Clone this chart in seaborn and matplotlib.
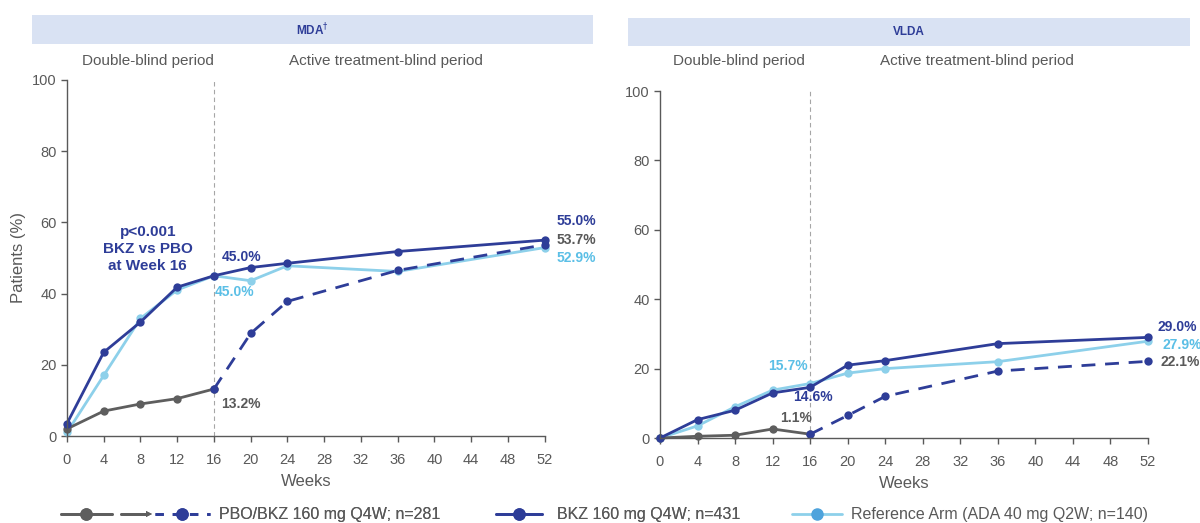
import pandas as pd
import matplotlib.pyplot as plt
import seaborn as sns
from matplotlib.lines import Line2D
from matplotlib.patches import Rectangle
from matplotlib.legend_handler import HandlerBase

sns.set_style("white")
plt.rcParams['font.family'] = ['Liberation Sans', 'DejaVu Sans']

# data
weeks = [0, 4, 8, 12, 16, 20, 24, 36, 52]
weeks_db = [0, 4, 8, 12, 16]
weeks_sw = [16, 20, 24, 36, 52]

mda_bkz = [3.5, 23.5, 32.0, 41.8, 45.0, 47.3, 48.5, 51.8, 55.0]
mda_ref = [1.0, 17.0, 33.0, 41.0, 45.0, 43.6, 47.8, 46.2, 52.9]
mda_pbo = [2.0, 7.0, 9.0, 10.5, 13.2]
mda_sw = [13.2, 28.8, 37.8, 46.5, 53.7]

vlda_bkz = [0.0, 5.3, 8.0, 13.0, 14.6, 21.0, 22.3, 27.2, 29.0]
vlda_ref = [0.0, 3.5, 9.0, 13.8, 15.7, 18.7, 20.0, 22.0, 27.9]
vlda_pbo = [0.0, 0.5, 0.8, 2.6, 1.1]
vlda_sw = [1.1, 6.5, 12.0, 19.3, 22.1]

dark = "#2E3D98"
light = "#8DD0EA"
light_txt = "#5BBFE6"
grey = "#5E5E5E"
txt = "#595959"

fig = plt.figure(figsize=(12, 5.23), dpi=100)
ax1 = fig.add_axes([0.0558, 0.1663, 0.398, 0.681])
ax2 = fig.add_axes([0.55, 0.1625, 0.4067, 0.6635])


def draw(ax, bkz, ref, pbo, sw):
    ax.axvline(16, color="#A6A6A6", lw=0.8, ls=(0, (4, 3)), zorder=0)
    kw = dict(ax=ax, lw=2, marker="o", markersize=6, markeredgewidth=0, clip_on=False)
    sns.lineplot(x=weeks, y=ref, color=light, **kw)
    sns.lineplot(x=weeks_db, y=pbo, color=grey, **kw)
    sns.lineplot(x=weeks_sw, y=sw, color=dark, linestyle=(0, (5, 3.5)), **kw)
    sns.lineplot(x=weeks, y=bkz, color=dark, **kw)
    ax.set_xlim(0, 52)
    ax.set_ylim(0, 100)
    ax.set_xticks(range(0, 53, 4))
    ax.set_yticks(range(0, 101, 20))
    sns.despine(ax=ax)
    for s in ["left", "bottom"]:
        ax.spines[s].set_color(txt)
        ax.spines[s].set_linewidth(1)
    ax.tick_params(axis="both", colors=txt, labelsize=10.5, length=4,
                   direction="out", left=True, bottom=True, width=1)
    ax.tick_params(axis="x", pad=8)
    ax.set_xlabel("Weeks", fontsize=12, color=txt, labelpad=5)


draw(ax1, mda_bkz, mda_ref, mda_pbo, mda_sw)
draw(ax2, vlda_bkz, vlda_ref, vlda_pbo, vlda_sw)
ax1.set_ylabel("Patients (%)", fontsize=12, color=txt)
ax2.set_ylabel("")

b = dict(fontsize=10, fontweight="bold", va="center", ha="left")
ax1.text(53.3, 60.4, "55.0%", color=dark, clip_on=False, **b)
ax1.text(53.3, 55.1, "53.7%", color=txt, clip_on=False, **b)
ax1.text(53.3, 50.0, "52.9%", color=light_txt, clip_on=False, **b)
ax1.text(16.9, 50.3, "45.0%", color=dark, **b)
ax1.text(16.1, 40.4, "45.0%", color=light_txt, **b)
ax1.text(16.75, 9.0, "13.2%", color=txt, **b)
ax1.text(8.8, 52.5, "p<0.001\nBKZ vs PBO\nat Week 16", color=dark, fontsize=11,
         fontweight="bold", ha="center", va="center", linespacing=1.3)

ax2.text(53.0, 32.0, "29.0%", color=dark, clip_on=False, **b)
ax2.text(53.5, 26.8, "27.9%", color=light_txt, clip_on=False, **b)
ax2.text(53.3, 21.9, "22.1%", color=txt, clip_on=False, **b)
ax2.text(11.5, 20.7, "15.7%", color=light_txt, **b)
ax2.text(14.2, 11.8, "14.6%", color=dark, **b)
ax2.text(12.8, 5.8, "1.1%", color=txt, **b)

# title bars
for x0, x1, y0, y1, label in [(0.0267, 0.494, 0.916, 0.971, r"MDA$^{\dagger}$"),
                              (0.523, 0.992, 0.912, 0.966, "VLDA")]:
    fig.patches.append(Rectangle((x0, y0), x1 - x0, y1 - y0, transform=fig.transFigure,
                                 facecolor="#D9E2F3", edgecolor="none"))
    fig.text((x0 + x1) / 2, (y0 + y1) / 2, label, color=dark, fontsize=8.5,
             fontweight="bold", ha="center", va="center")

for x, label in [(0.1233, "Double-blind period"), (0.3217, "Active treatment-blind period"),
                 (0.6158, "Double-blind period"), (0.8142, "Active treatment-blind period")]:
    fig.text(x, 0.883, label, color=txt, fontsize=11, ha="center", va="center")


class SwitchHandler(HandlerBase):
    # grey line + arrow + dashed blue line, as in the original key
    def create_artists(self, legend, orig, xd, yd, w, h, fs, trans):
        x0 = -xd
        y = h / 2 - yd
        out = [
            Line2D([x0, x0 + 0.34 * w], [y, y], color=grey, lw=2, transform=trans),
            Line2D([x0 + 0.17 * w], [y], color=grey, marker="o", markersize=8, transform=trans),
            Line2D([x0 + 0.40 * w, x0 + 0.57 * w], [y, y], color=grey, lw=2, transform=trans),
            Line2D([x0 + 0.59 * w], [y], color=grey, marker=">", markersize=4,
                   markeredgewidth=0, transform=trans),
            Line2D([x0 + 0.63 * w, x0 + w], [y, y], color=dark, lw=2, ls=(0, (3, 3.2)),
                   transform=trans),
            Line2D([x0 + 0.81 * w], [y], color=dark, marker="o", markersize=8,
                   transform=trans),
        ]
        return out


h_sw = Line2D([], [], color=grey)
h_bkz = Line2D([], [], color=dark, lw=2, marker="o", markersize=8)
h_ref = Line2D([], [], color=light, lw=2, marker="o", markersize=8,
               markerfacecolor="#4EA3DC", markeredgecolor="#4EA3DC")

leg_y = 0.0153
common = dict(loc="center left", frameon=False, fontsize=11.5, labelcolor=txt,
              borderpad=0, borderaxespad=0)
leg1 = fig.legend([h_sw], ["PBO/BKZ 160 mg Q4W; n=281"],
                  handler_map={h_sw: SwitchHandler()}, bbox_to_anchor=(0.051, leg_y),
                  handlelength=9.3, handletextpad=0.56, **common)
fig.add_artist(leg1)
leg2 = fig.legend([h_bkz], ["BKZ 160 mg Q4W; n=431"], bbox_to_anchor=(0.4133, leg_y),
                  handlelength=2.9, handletextpad=0.9, **common)
fig.add_artist(leg2)
fig.legend([h_ref], ["Reference Arm (ADA 40 mg Q2W; n=140)"], bbox_to_anchor=(0.66, leg_y),
           handlelength=3.1, handletextpad=0.6, **common)

plt.savefig("out.png", dpi=100)
